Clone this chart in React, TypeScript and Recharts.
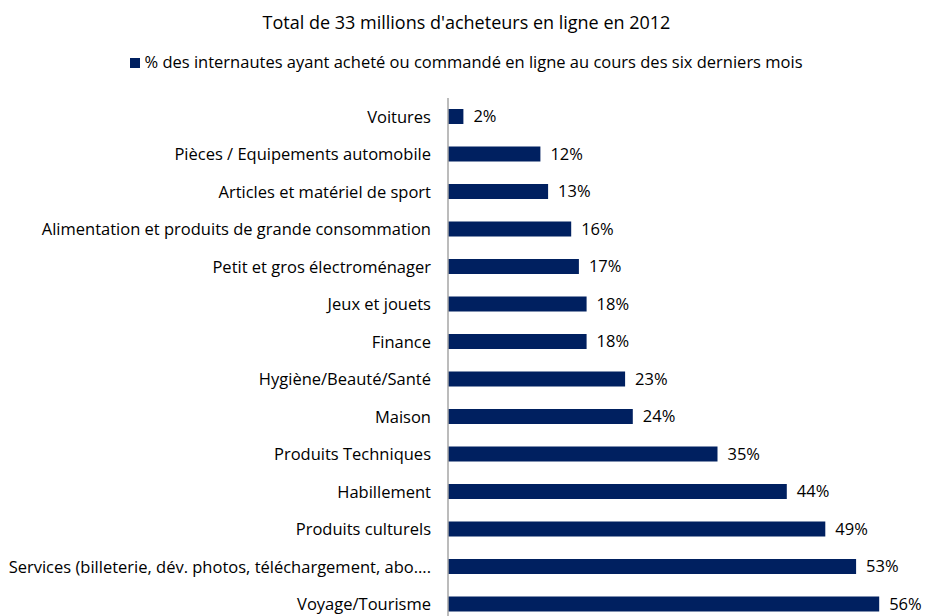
import React from "react";
import { BarChart, Bar, XAxis, YAxis, LabelList, Legend } from "recharts";

const categories = [
  "Voitures",
  "Pièces / Equipements automobile",
  "Articles et matériel de sport",
  "Alimentation et produits de grande consommation",
  "Petit et gros électroménager",
  "Jeux et jouets",
  "Finance",
  "Hygiène/Beauté/Santé",
  "Maison",
  "Produits Techniques",
  "Habillement",
  "Produits culturels",
  "Services (billeterie, dév. photos, téléchargement, abo....",
  "Voyage/Tourisme",
];
const values = [2, 12, 13, 16, 17, 18, 18, 23, 24, 35, 44, 49, 53, 56];
const seriesName = "% des internautes ayant acheté ou commandé en ligne au cours des six derniers mois";
const title = "Total de 33 millions d'acheteurs en ligne en 2012";

const data = categories.map((c, i) => ({ name: c, value: values[i] }));

const FONT = "'Open Sans', sans-serif";
const NAVY = "#002060";

const LegendContent = () => (
  <div style={{ textAlign: "center", fontFamily: FONT, fontSize: 16.5, color: "#000", lineHeight: "22px", whiteSpace: "nowrap" }}>
    <span style={{ display: "inline-block", width: 10, height: 10, background: NAVY, marginRight: 4 }} />
    {seriesName}
  </div>
);

export default function App() {
  return (
    <div style={{ position: "absolute", left: 0, top: 0, width: 933, height: 616, overflow: "hidden", background: "#fff" }}>
      <div style={{ position: "absolute", top: 10, left: 0, width: 933, textAlign: "center", fontFamily: FONT, fontSize: 18, color: "#000", lineHeight: "24px" }}>
        {title}
      </div>
      <BarChart
        width={933}
        height={640}
        data={data}
        layout="vertical"
        margin={{ top: 98, right: 23, bottom: 17, left: 0 }}
      >
        <XAxis type="number" domain={[0, 60]} hide />
        <YAxis
          type="category"
          dataKey="name"
          width={448}
          tickLine={false}
          tickSize={0}
          tickMargin={17}
          axisLine={{ stroke: "#A6A6A6", strokeWidth: 1.5 }}
          tick={{ fill: "#000", fontSize: 16.5, fontFamily: FONT }}
          interval={0}
        />
        <Legend
          verticalAlign="top"
          content={<LegendContent />}
          wrapperStyle={{ top: 51, left: 0, width: 933, height: 0, overflow: "visible" }}
        />
        <Bar dataKey="value" name={seriesName} fill={NAVY} barSize={15} isAnimationActive={false}>
          <LabelList
            dataKey="value"
            position="right"
            offset={10}
            formatter={(v: number) => `${v}%`}
            style={{ fill: "#000", fontSize: 16.5, fontFamily: FONT }}
          />
        </Bar>
      </BarChart>
    </div>
  );
}
